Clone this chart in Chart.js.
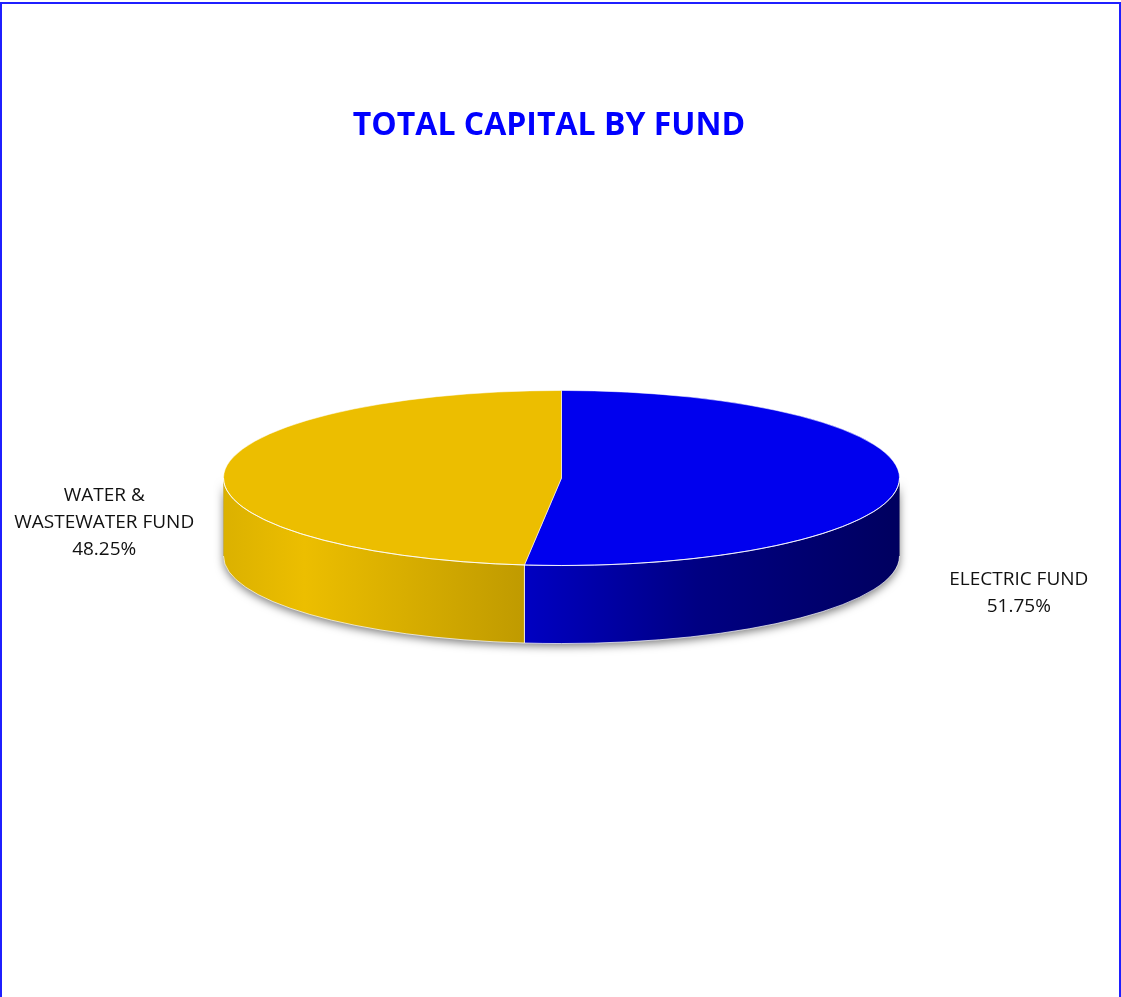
<!DOCTYPE html>
<html>
<head>
<meta charset="utf-8">
<title>Total capital by fund</title>
<script src="https://cdn.jsdelivr.net/npm/chart.js@4.4.1/dist/chart.umd.min.js"></script>
<style>
  html, body { margin: 0; padding: 0; background: #fff; }
  #wrap { position: relative; width: 1121px; height: 997px; overflow: hidden; }
  #frame { position: absolute; left: 0; top: 2px; width: 1117px; height: 1100px; border: 2px solid #1f1fff; }
  #chart { position: absolute; left: 0; top: 0; }
  #title {
    position: absolute; left: 0; top: 102px; width: 1098px;
    text-align: center; color: #0000ff;
    font: bold 32px "Open Sans", sans-serif; line-height: 42px;
  }
</style>
</head>
<body>
<div id="wrap">
  <div id="frame"></div>
  <canvas id="chart" width="1121" height="997"></canvas>
  <div id="title">TOTAL CAPITAL BY FUND</div>
</div>
<script>
(function () {
  'use strict';

  // dados
  var categories = ['ELECTRIC FUND', 'WATER & WASTEWATER FUND'];
  var labelLines = [['ELECTRIC FUND'], ['WATER &', 'WASTEWATER FUND']];
  var shares = [51.75, 48.25];
  var colors = ['#0000ee', '#ecbe00'];

  // aparência do "3D"
  var TILT = 0.259;      // achatamento vertical do disco
  var DEPTH = 78;        // espessura da lateral
  var LABEL_R = 1.355;   // distância dos rótulos (x raio)
  var labelDrop = [109, 51];

  function hexToRgb(h) {
    var n = parseInt(h.slice(1), 16);
    return [(n >> 16) & 255, (n >> 8) & 255, n & 255];
  }

  function shade(hex, f) {
    var c = hexToRgb(hex).map(function (v) { return Math.round(Math.min(255, v * f)); });
    return 'rgb(' + c.join(',') + ')';
  }

  function frontSegments(s, e) {
    var out = [];
    [-2 * Math.PI, 0, 2 * Math.PI].forEach(function (k) {
      var lo = Math.max(s, k), hi = Math.min(e, k + Math.PI);
      if (hi > lo) out.push([lo - k, hi - k]);
    });
    return out;
  }

  var pie3d = {
    id: 'pie3d',
    beforeDatasetsDraw: function (chart) {
      var ctx = chart.ctx;
      var arcs = chart.getDatasetMeta(0).data;
      if (!arcs.length) return;
      var cx = arcs[0].x, cy = arcs[0].y, R = arcs[0].outerRadius, ry = R * TILT;

      // sombra
      ctx.save();
      ctx.shadowColor = 'rgba(0,0,0,0.5)';
      ctx.shadowBlur = 9;
      ctx.shadowOffsetY = 3;
      ctx.fillStyle = '#999';
      ctx.beginPath();
      ctx.ellipse(cx, cy, R, ry, 0, 0, Math.PI);
      ctx.ellipse(cx, cy + DEPTH, R, ry, 0, Math.PI, 0, true);
      ctx.closePath();
      ctx.fill();
      ctx.restore();

      // laterais
      arcs.forEach(function (arc, i) {
        var grad = ctx.createLinearGradient(cx - R, 0, cx + R, 0);
        [[0, 0.93], [0.12, 1], [0.45, 0.81], [0.7, 0.55], [1, 0.4]].forEach(function (st) {
          grad.addColorStop(st[0], shade(colors[i], st[1]));
        });
        frontSegments(arc.startAngle, arc.endAngle).forEach(function (seg) {
          ctx.save();
          ctx.fillStyle = grad;
          ctx.beginPath();
          ctx.ellipse(cx, cy, R, ry, 0, seg[0], seg[1]);
          ctx.ellipse(cx, cy + DEPTH, R, ry, 0, seg[1], seg[0], true);
          ctx.closePath();
          ctx.fill();
          ctx.strokeStyle = 'rgba(255,255,255,0.7)';
          ctx.lineWidth = 1;
          ctx.beginPath();
          ctx.ellipse(cx, cy + DEPTH, R, ry, 0, seg[0], seg[1]);
          ctx.stroke();
          [seg[0], seg[1]].forEach(function (a) {
            if (a > 0.001 && a < Math.PI - 0.001) {
              var x = cx + Math.cos(a) * R, y = cy + Math.sin(a) * ry;
              ctx.beginPath();
              ctx.moveTo(x, y);
              ctx.lineTo(x, y + DEPTH);
              ctx.stroke();
            }
          });
          ctx.restore();
        });
      });

      // tampa achatada: o Chart.js desenha os arcos dentro desta transformação
      ctx.save();
      ctx.translate(0, cy);
      ctx.scale(1, TILT);
      ctx.translate(0, -cy);
    },
    afterDatasetsDraw: function (chart) {
      var ctx = chart.ctx;
      var arcs = chart.getDatasetMeta(0).data;
      if (!arcs.length) return;
      ctx.restore();
      var cx = arcs[0].x, cy = arcs[0].y, R = arcs[0].outerRadius, ry = R * TILT;

      ctx.save();
      ctx.strokeStyle = 'rgba(255,255,255,0.85)';
      ctx.lineWidth = 1;
      ctx.beginPath();
      ctx.ellipse(cx, cy, R, ry, 0, 0, Math.PI);
      ctx.stroke();

      // rótulos
      ctx.font = '19px "Open Sans", sans-serif';
      ctx.fillStyle = '#111';
      ctx.textAlign = 'center';
      ctx.textBaseline = 'middle';
      var lh = 27;
      arcs.forEach(function (arc, i) {
        var mid = (arc.startAngle + arc.endAngle) / 2;
        var x = cx + Math.cos(mid) * R * LABEL_R;
        var y = cy + Math.sin(mid) * ry * LABEL_R + labelDrop[i];
        var lines = labelLines[i].concat([shares[i].toFixed(2) + '%']);
        var y0 = y - (lines.length - 1) * lh / 2;
        lines.forEach(function (t, j) { ctx.fillText(t, x, y0 + j * lh); });
      });
      ctx.restore();
    }
  };

  function init() {
    var el = document.getElementById('chart');
    if (!el || !window.Chart) return;
    new Chart(el, {
      type: 'pie',
      data: {
        labels: categories,
        datasets: [{
          data: shares,
          backgroundColor: colors,
          borderColor: 'rgba(255,255,255,0.85)',
          borderWidth: 1,
          clip: false
        }]
      },
      options: {
        responsive: false,
        animation: false,
        events: [],
        layout: { padding: { left: 223, right: 221, top: 139, bottom: 180 } },
        plugins: {
          legend: { display: false },
          title: { display: false },
          tooltip: { enabled: false }
        }
      },
      plugins: [pie3d]
    });
  }

  if (document.readyState === 'loading') {
    document.addEventListener('DOMContentLoaded', init);
  } else {
    init();
  }
})();
</script>
</body>
</html>
